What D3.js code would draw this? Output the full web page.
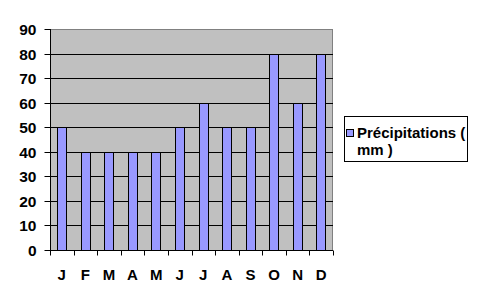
<!DOCTYPE html>
<html><head><meta charset="utf-8">
<script src="https://cdn.jsdelivr.net/npm/d3@7"></script>
<style>body{margin:0;background:#fff}svg{display:block}text{font-family:"Liberation Sans",Arial,sans-serif;font-weight:bold;fill:#000}</style>
</head><body><svg id="c" width="493" height="304"></svg>
<script>
const months = ["J","F","M","A","M","J","J","A","S","O","N","D"];
const values = [50,40,40,40,40,50,60,50,50,80,60,80];
const yTicks = [0,10,20,30,40,50,60,70,80,90];
const seriesName = ["Précipitations (","mm )"];

const svg = d3.select("#c");
const L=50, R=333, T=29, B=250;
const x = d3.scaleBand().domain(d3.range(months.length)).range([L,R]).paddingInner(0).paddingOuter(0);
const y = d3.scaleLinear().domain([0,90]).range([B,T]);

svg.append("rect").attr("x",L).attr("y",T).attr("width",R-L).attr("height",B-T).attr("fill","#c0c0c0");
svg.append("line").attr("x1",L).attr("x2",R).attr("y1",T+0.5).attr("y2",T+0.5).attr("stroke","#808080");
svg.append("line").attr("x1",R-0.5).attr("x2",R-0.5).attr("y1",T).attr("y2",B).attr("stroke","#808080");
svg.append("g").selectAll("line").data(yTicks.filter(d=>d>0&&d<90)).join("line")
  .attr("x1",L).attr("x2",R).attr("y1",d=>Math.round(y(d))+0.5).attr("y2",d=>Math.round(y(d))+0.5).attr("stroke","#000");

const bw = x.bandwidth()/2.5;
svg.append("g").selectAll("rect").data(values).join("rect")
  .attr("x",(d,i)=>Math.round(x(i)+(x.bandwidth()-bw)/2)+0.5)
  .attr("y",d=>Math.round(y(d))+0.5)
  .attr("width",Math.round(bw))
  .attr("height",d=>Math.round(B-y(d)))
  .attr("fill","#9999ff").attr("stroke","#000");

const ya = d3.axisLeft(y).tickValues(yTicks).tickSize(6).tickPadding(8);
const gy = svg.append("g").attr("transform",`translate(${L+0.5},0)`).call(ya);
gy.select(".domain").attr("d",`M0,${T}V${B}`).attr("stroke","#000");
gy.selectAll(".tick line").attr("stroke","#000");
gy.selectAll("text").style("font-size","15.5px").attr("font-family",null).attr("dy","0.36em");
gy.selectAll(".tick").attr("transform",d=>`translate(0,${Math.round(y(d))+0.5})`);

const xa = d3.axisBottom(d3.scaleLinear().domain([0,12]).range([L,R])).tickValues(d3.range(13)).tickSize(5).tickFormat("");
const gx = svg.append("g").attr("transform",`translate(0,${B+0.5})`).call(xa);
gx.select(".domain").attr("d",`M${L},0H${R}`).attr("stroke","#000");
gx.selectAll(".tick line").attr("stroke","#000");
gx.selectAll(".tick").attr("transform",d=>`translate(${Math.round(L+d*(R-L)/12)+0.5},0)`);
svg.append("g").selectAll("text").data(months).join("text")
  .attr("x",(d,i)=>x(i)+x.bandwidth()/2).attr("y",280).attr("text-anchor","middle")
  .style("font-size","15px").text(d=>d);

const lg = svg.append("g");
lg.append("rect").attr("x",344.5).attr("y",116.5).attr("width",123).attr("height",45).attr("fill","#fff").attr("stroke","#000");
lg.append("rect").attr("x",346.5).attr("y",129.5).attr("width",7).attr("height",7).attr("fill","#9999ff").attr("stroke","#000");
lg.selectAll("text.l").data(seriesName).join("text").attr("class","l")
  .attr("x",357).attr("y",(d,i)=>138+i*17).style("font-size","15px").text(d=>d);
</script></body></html>
